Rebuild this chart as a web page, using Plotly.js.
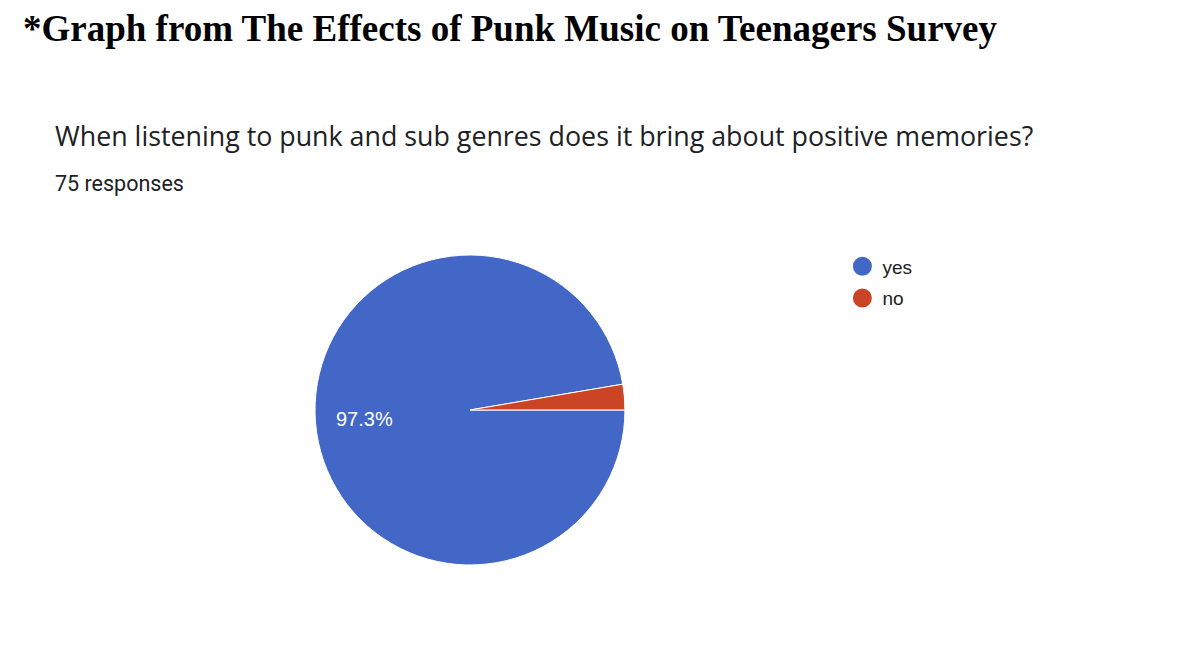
<!DOCTYPE html>
<html>
<head>
<meta charset="utf-8">
<script src="https://cdn.plot.ly/plotly-3.0.1.min.js"></script>
<style>
  html, body { margin: 0; padding: 0; background: #ffffff; }
  #chart { width: 1200px; height: 666px; }
</style>
</head>
<body>
<div id="chart"></div>
<script>
// ---- data ----
const pageTitle = "*Graph from The Effects of Punk Music on Teenagers Survey";
const question = "When listening to punk and sub genres does it bring about positive memories?";
const responsesLabel = "75 responses";
const categories = ["yes", "no"];
const counts = [73, 2];
const sliceColors = ["#4267C6", "#CC4426"];
const showPercent = [true, false];

// ---- geometry (page layout) ----
const W = 1200, H = 666;
const pieDomainX = [0.2625, 0.5208];
const pieDomainY = [0.1517, 0.6171];
const startAngleDeg = 0;       // slices start at 3 o'clock (rotation 90 in plotly)
const labelRadiusFrac = 0.68;  // inside-label distance from center, as a fraction of radius

// ---- pie ----
const pie = {
  type: "pie",
  labels: categories,
  values: counts,
  sort: false,
  direction: "clockwise",
  rotation: 90,
  marker: { colors: sliceColors, line: { color: "#ffffff", width: 1 } },
  textinfo: "none",
  hoverinfo: "label+percent",
  showlegend: false,
  domain: { x: pieDomainX, y: pieDomainY }
};

// ---- legend (circle markers) ----
const legendTraces = categories.map((c, i) => ({
  type: "scatter",
  mode: "markers",
  x: [null], y: [null],
  name: c,
  legendgroup: c,
  marker: { color: sliceColors[i], size: 16, symbol: "circle", line: { color: sliceColors[i], width: 3 } },
  showlegend: true,
  hoverinfo: "skip"
}));

// ---- percent labels placed at each slice's mid-angle, derived from the data ----
const total = counts.reduce((a, b) => a + b, 0);
const cx = (pieDomainX[0] + pieDomainX[1]) / 2 * W;
const cyTop = (1 - (pieDomainY[0] + pieDomainY[1]) / 2) * H;
const R = Math.min((pieDomainX[1] - pieDomainX[0]) * W, (pieDomainY[1] - pieDomainY[0]) * H) / 2;
const pctAnnotations = [];
let cum = 0;
counts.forEach((v, i) => {
  const mid = (cum + v / 2) / total;
  cum += v;
  if (!showPercent[i]) return;
  const ang = (startAngleDeg + mid * 360) * Math.PI / 180; // clockwise from east
  const px = cx + labelRadiusFrac * R * Math.cos(ang);
  const py = cyTop + labelRadiusFrac * R * Math.sin(ang);
  pctAnnotations.push({
    text: (v / total * 100).toFixed(1) + "%",
    xref: "paper", yref: "paper", x: px / W, y: 1 - py / H,
    xanchor: "center", yanchor: "middle", showarrow: false,
    font: { family: "Liberation Sans, Arial, sans-serif", size: 20, color: "#ffffff" }
  });
});

const layout = {
  width: W,
  height: H,
  margin: { l: 0, r: 0, t: 0, b: 0 },
  paper_bgcolor: "#ffffff",
  plot_bgcolor: "#ffffff",
  xaxis: { visible: false, domain: [0.9, 1] },
  yaxis: { visible: false, domain: [0.9, 1] },
  showlegend: true,
  legend: {
    x: 0.702, y: 0.6285, xanchor: "left", yanchor: "top",
    font: { family: "Liberation Sans, Arial, sans-serif", size: 19, color: "#222222" },
    tracegroupgap: 4,
    bgcolor: "rgba(0,0,0,0)"
  },
  annotations: [
    {
      text: "<b>" + pageTitle + "</b>",
      xref: "paper", yref: "paper", x: 21 / W, y: 1 - 29 / H,
      xanchor: "left", yanchor: "middle", showarrow: false,
      font: { family: "Liberation Serif, Times New Roman, serif", size: 37, color: "#000000" }
    },
    {
      text: question,
      xref: "paper", yref: "paper", x: 53 / W, y: 1 - 135 / H,
      xanchor: "left", yanchor: "middle", showarrow: false,
      font: { family: "Open Sans, Arial, sans-serif", size: 26.8, color: "#202124" }
    },
    {
      text: responsesLabel,
      xref: "paper", yref: "paper", x: 53 / W, y: 1 - 183 / H,
      xanchor: "left", yanchor: "middle", showarrow: false,
      font: { family: "Roboto, Arial, sans-serif", size: 21.5, color: "#202124" }
    }
  ].concat(pctAnnotations)
};

Plotly.newPlot("chart", [pie].concat(legendTraces), layout, { displayModeBar: false });
</script>
</body>
</html>
